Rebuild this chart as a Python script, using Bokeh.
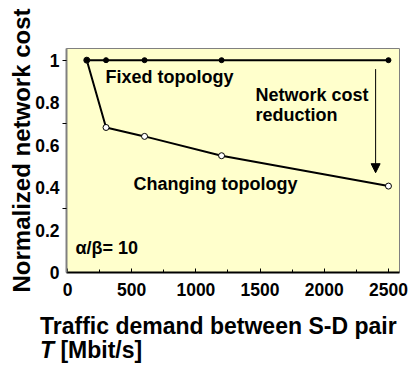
from bokeh.plotting import figure
from bokeh.layouts import column
from bokeh.models import Range1d, FixedTicker, Label, Arrow, NormalHead, Div
from bokeh.embed import file_html
from bokeh.resources import INLINE

# ---- data ----
demand = [150, 300, 600, 1200, 2500]
fixed_cost = [1.0, 1.0, 1.0, 1.0, 1.0]
changing_cost = [1.0, 0.683, 0.641, 0.55, 0.407]
x_ticks = [0, 500, 1000, 1500, 2000, 2500]
x_minor = [250, 750, 1250, 1750, 2250]
y_ticks = [0, 0.2, 0.4, 0.6, 0.8, 1.0]
y_tick_labels = ["0", "0.2", "0.4", "0.6", "0.8", "1"]
y_minor = [0.3, 0.7, 1.0]
arrow_x = 2400
arrow_from = 0.958
arrow_to = 0.47

FONT = "Liberation Sans"

p = figure(width=412, height=315, output_backend="svg", toolbar_location=None,
           x_range=Range1d(-8, 2586), y_range=Range1d(0, 1.055),
           min_border_left=66, min_border_top=48, min_border_right=13,
           min_border_bottom=43)
p.background_fill_color = "#FFFFCC"
p.border_fill_color = "white"
p.outline_line_color = "#808080"
p.outline_line_width = 1
p.grid.visible = False

xa = p.xaxis[0]
xa.ticker = FixedTicker(ticks=x_ticks, minor_ticks=x_minor)
xa.major_tick_in = 4
xa.major_tick_out = 0
xa.minor_tick_in = 3
xa.minor_tick_out = 0
xa.axis_line_width = 2
xa.axis_line_color = "black"
xa.major_label_text_font = FONT
xa.major_label_text_font_style = "bold"
xa.major_label_text_font_size = "17.5px"
xa.major_label_text_color = "black"
xa.major_label_standoff = 10

ya = p.yaxis[0]
ya.ticker = FixedTicker(ticks=y_ticks, minor_ticks=y_minor)
ya.major_label_overrides = {t: s for t, s in zip(y_ticks, y_tick_labels)}
ya.major_tick_in = 0
ya.major_tick_out = 0
ya.minor_tick_in = 0
ya.minor_tick_out = 4
ya.axis_line_width = 2
ya.axis_line_color = "#808080"
ya.major_label_text_font = FONT
ya.major_label_text_font_style = "bold"
ya.major_label_text_font_size = "17.5px"
ya.major_label_text_color = "black"
ya.major_label_standoff = 3
ya.axis_label = "\u00a0\u00a0\u00a0Normalized network cost"
ya.axis_label_text_font = FONT
ya.axis_label_text_font_style = "bold"
ya.axis_label_text_font_size = "24px"
ya.axis_label_text_color = "black"
ya.axis_label_standoff = -3

p.line(demand, fixed_cost, line_color="black", line_width=2)
p.line(demand, changing_cost, line_color="black", line_width=2)
p.scatter(demand, changing_cost, size=6, fill_color="white", line_color="black", line_width=1)
p.scatter(demand, fixed_cost, size=5, fill_color="black", line_color="black")

p.add_layout(Arrow(x_start=arrow_x, y_start=arrow_from, x_end=arrow_x, y_end=arrow_to,
                   line_color="black", line_width=1,
                   end=NormalHead(size=9, fill_color="black", line_color="black")))

def lab(x, y, text):
    p.add_layout(Label(x=x, y=y, text=text,
                       text_font=FONT, text_font_style="bold", text_font_size="18px",
                       text_color="black", text_baseline="middle"))

lab(296, 0.92, "Fixed topology")
lab(1464, 0.835, "Network cost")
lab(1464, 0.741, "reduction")
lab(514, 0.416, "Changing topology")
lab(62, 0.117, "\u03b1/\u03b2= 10")

# x-axis title (two lines, italic T) below the chart
x_title = Div(
    text=("<div style=\"font-family:'Liberation Sans',Arial,sans-serif;font-weight:bold;"
          "font-size:23px;line-height:23.5px;color:black;padding-left:40px;"
          "padding-top:0px;white-space:nowrap;\">"
          "Traffic demand between S-D pair<br><i>T</i> [Mbit/s]</div>"),
    width=412, height=50, margin=0)

open("out.html", "w").write(file_html(column(p, x_title, spacing=0), INLINE))
